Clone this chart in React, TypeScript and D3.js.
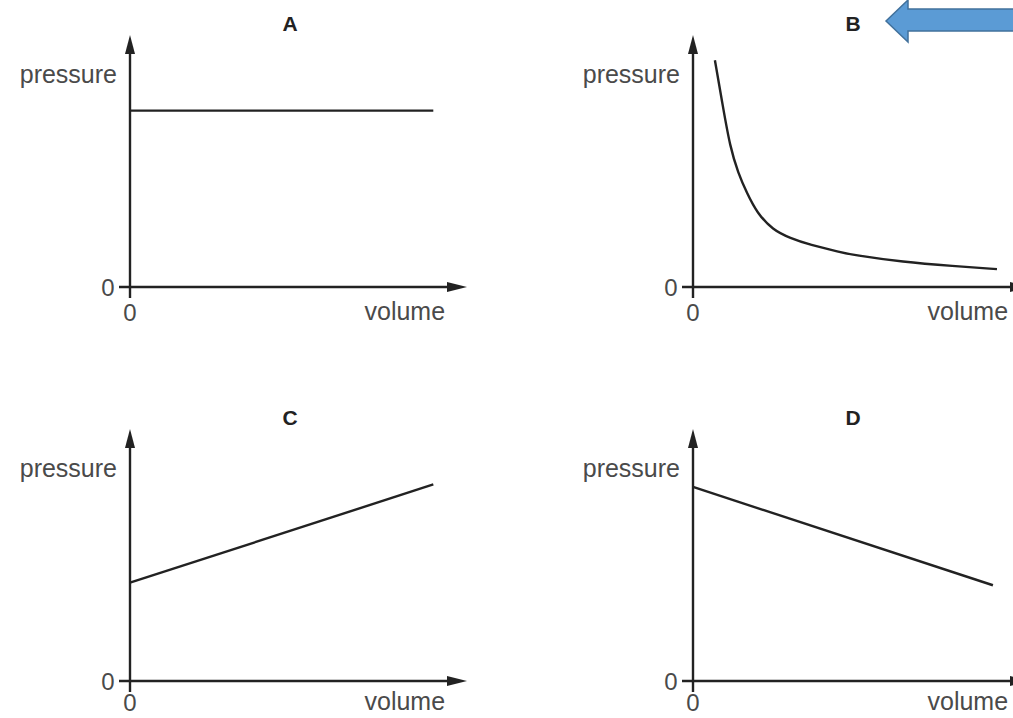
import React from "react";
import { scaleLinear, line, curveBasis, curveLinear } from "d3";

// values (volume 0..10, pressure 0..10 per panel)
const volumeA = [0, 9];
const pressureA = [7, 7];

const volumeB = [0.65, 0.89, 1.1, 1.34, 1.6, 1.9, 2.37, 2.88, 3.47, 4.36, 4.75, 6.23, 7.72, 9.02];
const pressureB = [9.0, 7.14, 5.56, 4.52, 3.73, 2.94, 2.26, 1.94, 1.67, 1.39, 1.27, 0.99, 0.83, 0.71];

const volumeC = [0, 9];
const pressureC = [3.9, 7.8];

const volumeD = [0, 8.9];
const pressureD = [7.7, 3.8];

const panelLabels = ["A", "B", "C", "D"];
const yAxisTitle = "pressure";
const xAxisTitle = "volume";
const zeroLabel = "0";

const W = 1013;
const H = 718;
const axisW = 337;
const axisH = 252;
const ink = "#222";
const textInk = "#4a4a4a";
const font = "'Liberation Sans', Arial, Helvetica, sans-serif";

interface PanelProps {
  ox: number;
  oy: number;
  label: string;
  xs: number[];
  ys: number[];
  smooth: boolean;
}

const Panel: React.FC<PanelProps> = ({ ox, oy, label, xs, ys, smooth }) => {
  const xScale = scaleLinear().domain([0, 10]).range([ox, ox + axisW]);
  const yScale = scaleLinear().domain([0, 10]).range([oy, oy - axisH]);

  const pts: [number, number][] = xs.map((v, i) => [v, ys[i]]);
  const path = line<[number, number]>()
    .x((d) => xScale(d[0]))
    .y((d) => yScale(d[1]))
    .curve(smooth ? curveBasis : curveLinear)(pts);

  const x0 = xScale(0);
  const y0 = yScale(0);
  const xEnd = xScale(10);
  const yEnd = yScale(10);
  // keep the lower row's labels inside the picture
  const belowY = Math.min(y0 + 25, H - 16);

  return (
    <g>
      {/* y axis */}
      <line x1={x0} x2={x0} y1={y0 + 11} y2={yEnd + 14} stroke={ink} strokeWidth={2.4} />
      <path d={`M${x0},${yEnd} L${x0 - 5},${yEnd + 19} L${x0 + 5},${yEnd + 19} Z`} fill={ink} />
      {/* x axis */}
      <line x1={x0 - 11} x2={xEnd - 14} y1={y0} y2={y0} stroke={ink} strokeWidth={2.4} />
      <path d={`M${xEnd},${y0} L${xEnd - 20},${y0 - 5} L${xEnd - 20},${y0 + 5} Z`} fill={ink} />

      <path d={path || ""} fill="none" stroke={ink} strokeWidth={2.4} />

      <text x={x0 - 22} y={y0} dy="0.36em" textAnchor="middle" fontSize={24} fill={textInk} fontFamily={font}>
        {zeroLabel}
      </text>
      <text x={x0} y={belowY} dy="0.36em" textAnchor="middle" fontSize={24} fill={textInk} fontFamily={font}>
        {zeroLabel}
      </text>
      <text x={x0 - 13} y={yScale(8.4)} dy="0.3em" textAnchor="end" fontSize={25} fill={textInk} fontFamily={font}>
        {yAxisTitle}
      </text>
      <text x={xScale(9.35)} y={belowY} dy="0.3em" textAnchor="end" fontSize={25} fill={textInk} fontFamily={font}>
        {xAxisTitle}
      </text>
      <text x={xScale(4.75)} y={yEnd - 12} dy="0.36em" textAnchor="middle" fontSize={21} fontWeight="bold" fill={ink} fontFamily={font}>
        {label}
      </text>
    </g>
  );
};

const App: React.FC = () => {
  const panels = [
    { ox: 130, oy: 287, xs: volumeA, ys: pressureA, smooth: false },
    { ox: 693, oy: 287, xs: volumeB, ys: pressureB, smooth: true },
    { ox: 130, oy: 681, xs: volumeC, ys: pressureC, smooth: false },
    { ox: 693, oy: 681, xs: volumeD, ys: pressureD, smooth: false },
  ];

  return (
    <svg width={W} height={H} style={{ position: "absolute", left: 0, top: 0, background: "#fff" }}>
      <rect width={W} height={H} fill="#fff" />
      {panels.map((p, i) => (
        <Panel key={panelLabels[i]} label={panelLabels[i]} {...p} />
      ))}
      {/* blue arrow pointing at B */}
      <path
        d="M886,21 L908,0 L908,9 L1014,9 L1014,31 L908,31 L908,42 Z"
        fill="#5b9bd5"
        stroke="#41719c"
        strokeWidth={1.5}
      />
    </svg>
  );
};

export default App;
